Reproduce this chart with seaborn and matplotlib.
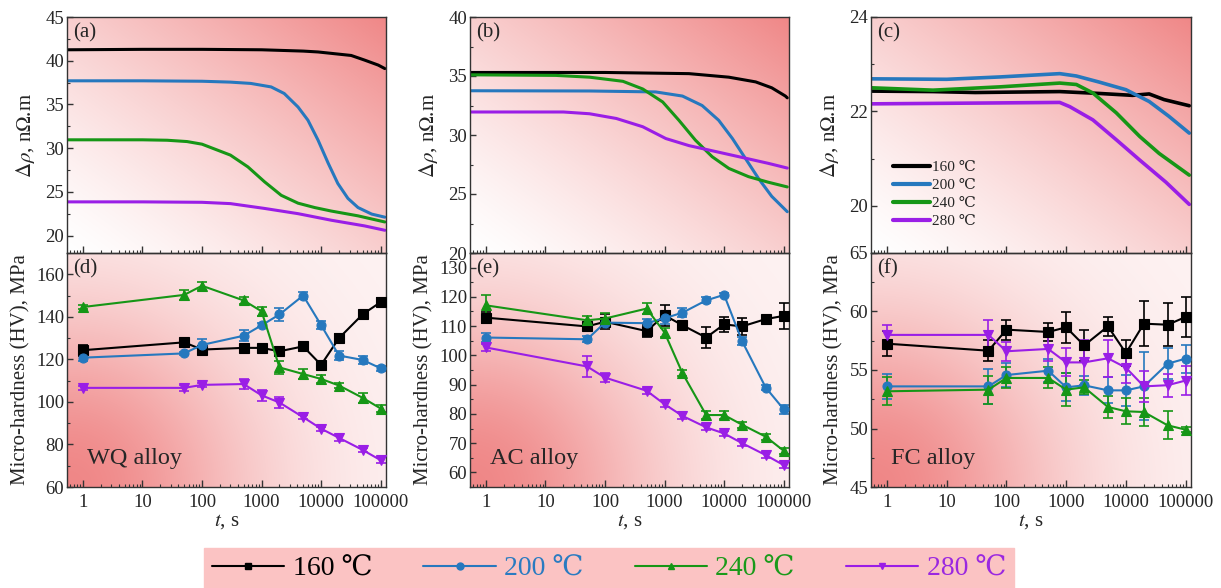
import numpy as np
import pandas as pd
import matplotlib
matplotlib.use("Agg")
import matplotlib.pyplot as plt
import seaborn as sns
from matplotlib.ticker import LogLocator, FixedLocator, MultipleLocator, FuncFormatter, NullFormatter
from matplotlib.lines import Line2D

# ---------------- data ----------------
temps = ["160 ℃", "200 ℃", "240 ℃", "280 ℃"]
colors = ["#000000", "#2678be", "#169616", "#9a1ee6"]
text_colors = ["#000000", "#2a7bc1", "#1a9a1a", "#9b28e0"]
markers = ["s", "o", "^", "v"]
alloys = ["WQ alloy", "AC alloy", "FC alloy"]
top_tags = ["(a)", "(b)", "(c)"]
bottom_tags = ["(d)", "(e)", "(f)"]

# resistivity change curves, delta rho (nOhm.m) vs ageing time (s)
# (a) WQ alloy
wq_t_160 = [0.55, 10, 100, 1000, 5000, 8900, 32000, 53700, 91000, 117500]
wq_r_160 = [41.25, 41.3, 41.3, 41.25, 41.1, 41.0, 40.6, 40.07, 39.5, 39.1]
wq_t_200 = [0.55, 10, 100, 300, 660, 1450, 2400, 4100, 6000, 8900, 13200, 19100, 28200,
            41700, 70800, 117500]
wq_r_200 = [37.7, 37.7, 37.65, 37.55, 37.4, 37.0, 36.25, 34.7, 33.2, 30.9, 28.25, 25.95, 24.25,
            23.2, 22.45, 22.1]
wq_t_240 = [0.55, 10, 26, 56, 100, 300, 590, 1120, 2140, 4100, 7800, 14800, 41700, 117500]
wq_r_240 = [30.95, 30.95, 30.9, 30.75, 30.45, 29.2, 27.85, 26.15, 24.6, 23.7, 23.2, 22.8, 22.25, 21.55]
wq_t_280 = [0.55, 10, 100, 300, 1120, 4100, 14800, 53700, 117500]
wq_r_280 = [23.85, 23.85, 23.8, 23.65, 23.1, 22.5, 21.75, 21.1, 20.6]

# (b) AC alloy
ac_t_160 = [0.55, 100, 2570, 12000, 33900, 63100, 107000, 115000]
ac_r_160 = [35.3, 35.3, 35.2, 34.9, 34.5, 34.0, 33.3, 33.15]
ac_t_200 = [0.55, 55, 710, 2000, 4270, 8100, 13800, 22900, 38000, 63100, 115000]
ac_r_200 = [33.75, 33.73, 33.65, 33.3, 32.5, 31.25, 29.7, 28.0, 26.3, 24.8, 23.5]
ac_t_240 = [0.55, 15, 55, 200, 430, 930, 1740, 3300, 6300, 12000, 25700, 55000, 115000]
ac_r_240 = [35.1, 35.05, 34.9, 34.55, 33.9, 32.8, 31.25, 29.56, 28.16, 27.17, 26.47, 26.0, 25.6]
ac_t_280 = [0.55, 20, 55, 155, 430, 1050, 2570, 7200, 20000, 55000, 115000]
ac_r_280 = [31.95, 31.95, 31.8, 31.4, 30.7, 29.7, 29.1, 28.6, 28.1, 27.6, 27.2]

# (c) FC alloy
fc_t_160 = [0.55, 5.9, 30, 780, 3600, 12900, 24500, 43600, 115000]
fc_r_160 = [22.43, 22.42, 22.4, 22.42, 22.38, 22.34, 22.37, 22.25, 22.12]
fc_t_200 = [0.55, 10, 78, 780, 1480, 3600, 10000, 24500, 52000, 115000]
fc_r_200 = [22.69, 22.68, 22.73, 22.8, 22.75, 22.62, 22.46, 22.21, 21.9, 21.54]
fc_t_240 = [0.55, 5.9, 78, 780, 1480, 2800, 6900, 17000, 36000, 115000]
fc_r_240 = [22.5, 22.45, 22.52, 22.6, 22.57, 22.39, 21.97, 21.47, 21.11, 20.65]
fc_t_280 = [0.55, 78, 780, 1150, 2800, 6900, 17000, 46800, 115000]
fc_r_280 = [22.16, 22.18, 22.19, 22.1, 21.82, 21.4, 20.97, 20.5, 20.03]

# micro-hardness (MPa) measured at these ageing times
hv_t = [1, 50, 100, 500, 1000, 2000, 5000, 10000, 20000, 50000, 100000]

wq_hv_160 = [124.3, 128.0, 124.6, 125.4, 125.4, 123.8, 126.1, 117.4, 130.0, 141.2, 146.9]
wq_hv_200 = [120.8, 122.8, 126.8, 131.1, 136.0, 141.1, 150.0, 136.1, 121.8, 119.7, 115.8]
wq_hv_240 = [144.6, 150.3, 154.6, 147.7, 142.6, 116.2, 113.1, 110.8, 107.7, 101.9, 96.9]
wq_hv_280 = [106.6, 106.6, 108.0, 108.4, 103.1, 99.7, 92.8, 87.4, 83.1, 77.4, 72.6]
wq_err_160 = [2.5, 1.5, 1.5, 1.2, 0.8, 1.5, 1.2, 2.0, 2.0, 1.2, 1.8]
wq_err_200 = [1.5, 0.8, 3.0, 2.5, 1.0, 3.0, 1.8, 1.8, 2.0, 2.0, 1.2]
wq_err_240 = [1.0, 2.5, 2.0, 1.5, 2.0, 3.0, 2.5, 2.0, 1.0, 2.5, 1.5]
wq_err_280 = [1.0, 1.5, 1.0, 2.5, 2.5, 2.5, 1.0, 1.0, 1.5, 1.0, 1.5]

ac_hv_160 = [112.9, 109.9, 111.5, 108.3, 113.7, 110.3, 106.1, 110.6, 109.9, 112.4, 113.5]
ac_hv_200 = [106.1, 105.5, 111.2, 111.0, 112.7, 114.6, 118.8, 120.7, 104.9, 89.0, 81.6]
ac_hv_240 = [117.1, 112.0, 112.6, 116.0, 107.8, 93.9, 79.6, 79.6, 76.3, 72.2, 67.4]
ac_hv_280 = [102.7, 96.2, 92.4, 87.9, 83.3, 79.3, 75.4, 73.3, 70.0, 65.9, 62.5]
ac_err_160 = [2.0, 1.0, 2.5, 2.0, 3.5, 1.0, 3.5, 2.5, 2.8, 0.5, 4.5]
ac_err_200 = [1.5, 1.0, 1.0, 1.5, 2.0, 1.5, 1.0, 0.5, 1.5, 1.0, 1.5]
ac_err_240 = [3.5, 1.5, 2.0, 2.0, 1.5, 1.0, 1.5, 1.5, 1.0, 1.0, 1.0]
ac_err_280 = [1.2, 3.5, 1.5, 1.0, 1.0, 1.0, 1.0, 1.0, 1.0, 1.0, 1.0]

fc_hv_160 = [57.25, 56.65, 58.45, 58.25, 58.65, 57.1, 58.73, 56.45, 58.96, 58.87, 59.53]
fc_hv_200 = [53.6, 53.6, 54.57, 54.94, 53.52, 53.69, 53.26, 53.26, 53.6, 55.54, 55.97]
fc_hv_240 = [53.18, 53.32, 54.32, 54.32, 53.32, 53.52, 51.84, 51.47, 51.41, 50.27, 49.9]
fc_hv_280 = [58.0, 58.0, 56.6, 56.8, 55.65, 55.65, 56.0, 55.2, 53.6, 53.7, 54.1]
fc_err_160 = [1.05, 0.9, 0.85, 0.8, 1.3, 1.35, 0.8, 1.1, 1.95, 1.85, 1.7]
fc_err_200 = [1.1, 1.5, 1.0, 1.0, 1.2, 0.8, 1.1, 1.3, 2.9, 1.3, 1.2]
fc_err_240 = [1.2, 1.2, 0.9, 0.9, 1.4, 0.6, 0.9, 1.1, 1.2, 1.2, 0.2]
fc_err_280 = [0.85, 1.3, 0.8, 1.0, 1.2, 1.9, 1.6, 1.3, 1.3, 1.0, 1.2]

top_series = [
    [(wq_t_160, wq_r_160), (wq_t_200, wq_r_200), (wq_t_240, wq_r_240), (wq_t_280, wq_r_280)],
    [(ac_t_160, ac_r_160), (ac_t_200, ac_r_200), (ac_t_240, ac_r_240), (ac_t_280, ac_r_280)],
    [(fc_t_160, fc_r_160), (fc_t_200, fc_r_200), (fc_t_240, fc_r_240), (fc_t_280, fc_r_280)],
]
bottom_series = [
    [(wq_hv_160, wq_err_160), (wq_hv_200, wq_err_200), (wq_hv_240, wq_err_240), (wq_hv_280, wq_err_280)],
    [(ac_hv_160, ac_err_160), (ac_hv_200, ac_err_200), (ac_hv_240, ac_err_240), (ac_hv_280, ac_err_280)],
    [(fc_hv_160, fc_err_160), (fc_hv_200, fc_err_200), (fc_hv_240, fc_err_240), (fc_hv_280, fc_err_280)],
]

top_ylims = [(18, 45), (20, 40), (19, 24)]
top_major = [5, 5, 2]
top_minor = [2.5, 2.5, 1]
bottom_ylims = [(60, 170), (55, 135), (45, 65)]
bottom_major = [20, 10, 5]
bottom_minor = [10, 5, 2.5]
x_ticks = [1, 10, 100, 1000, 10000, 100000]

# ---------------- style ----------------
sns.set_theme(style="ticks")
plt.rcParams["font.family"] = ["Liberation Serif", "DejaVu Serif", "DejaVu Sans"]
plt.rcParams["mathtext.fontset"] = "stix"
plt.rcParams["xtick.direction"] = "in"
plt.rcParams["ytick.direction"] = "in"
plt.rcParams["axes.edgecolor"] = "#333333"
plt.rcParams["axes.linewidth"] = 1.0

W, H = 1221, 588
fig = plt.figure(figsize=(W / 100, H / 100), dpi=100)

lefts = [67, 470, 871]
widths = [319, 319, 320]
top_box = (17, 253)
bot_box = (253, 487)

pink = np.array([0.94, 0.53, 0.53])
white = np.array([1.0, 1.0, 1.0])
gu, gv = np.meshgrid(np.linspace(0, 1, 200), np.linspace(0, 1, 200))


def shade(weight):
    w = np.clip(weight, 0, 1)[..., None]
    return white * (1 - w) + pink * w


top_bg = shade(((gu + gv) / 2) ** 1.3)
bot_bg = shade(0.1 + 0.9 * np.exp(-(gu ** 2 / 0.35 + gv ** 2 / 0.6)))


def frac_rect(left, width, box):
    y0, y1 = box
    return [left / W, (H - y1) / H, width / W, (y1 - y0) / H]


def add_background(rect, img):
    bg = fig.add_axes(rect, zorder=0)
    bg.imshow(img, origin="lower", extent=(0, 1, 0, 1), aspect="auto", interpolation="bilinear")
    bg.set_axis_off()


def style_xaxis(ax, show_labels):
    ax.set_xscale("log")
    ax.set_xlim(0.54, 1.23e5)
    ax.xaxis.set_major_locator(FixedLocator(x_ticks))
    ax.xaxis.set_minor_locator(LogLocator(base=10, subs=np.arange(2, 10), numticks=20))
    ax.xaxis.set_minor_formatter(NullFormatter())
    if show_labels:
        ax.xaxis.set_major_formatter(FuncFormatter(lambda v, p: f"{int(round(v))}"))
    else:
        ax.xaxis.set_major_formatter(NullFormatter())
    ax.tick_params(axis="x", which="major", length=5, width=1, labelsize=13.5, pad=5, color="#333333")
    ax.tick_params(axis="x", which="minor", length=2.5, width=0.8, color="#333333")
    ax.tick_params(axis="y", which="major", length=4, width=1, labelsize=13.5, pad=2, color="#333333")
    ax.tick_params(axis="y", which="minor", length=2.5, width=0.8, color="#333333")
    for s in ax.spines.values():
        s.set_visible(True)


for col in range(3):
    # top: resistivity curves
    rect_t = frac_rect(lefts[col], widths[col], top_box)
    add_background(rect_t, top_bg)
    ax = fig.add_axes(rect_t, zorder=1)
    ax.set_facecolor("none")
    for i, (tt, rr) in enumerate(top_series[col]):
        df = pd.DataFrame({"t": tt, "r": rr})
        sns.lineplot(data=df, x="t", y="r", ax=ax, color=colors[i], linewidth=2.6 if col == 2 else 2.2,
                     estimator=None, sort=False)
    style_xaxis(ax, False)
    ax.set_ylim(*top_ylims[col])
    ax.yaxis.set_major_locator(MultipleLocator(top_major[col]))
    ax.yaxis.set_minor_locator(MultipleLocator(top_minor[col]))
    ax.set_xlabel("")
    ax.set_ylabel(r"$\Delta\rho$, n$\Omega$.m", fontsize=15, labelpad=6)
    ax.text(0.018, 0.975, top_tags[col], transform=ax.transAxes, fontsize=15, va="top", ha="left")
    if col == 2:
        hs = [Line2D([], [], color=c, lw=3) for c in colors]
        ax.legend(hs, temps, loc="lower left", bbox_to_anchor=(0.035, 0.06), frameon=False,
                  fontsize=11, handlelength=2.4, handletextpad=0.15, labelspacing=0.28,
                  borderpad=0.2)

    # bottom: micro-hardness with error bars
    rect_b = frac_rect(lefts[col], widths[col], bot_box)
    add_background(rect_b, bot_bg)
    ax = fig.add_axes(rect_b, zorder=1)
    ax.set_facecolor("none")
    for i, (hv, err) in enumerate(bottom_series[col]):
        df = pd.DataFrame({"t": hv_t, "hv": hv})
        ax.errorbar(hv_t, hv, yerr=err, fmt="none", ecolor=colors[i], elinewidth=1.2,
                    capsize=3.5, capthick=1.2, zorder=2)
        sns.lineplot(data=df, x="t", y="hv", ax=ax, color=colors[i], linewidth=1.5,
                     marker=markers[i], markersize=7 if markers[i] != "o" else 6.5,
                     markeredgecolor=colors[i], markeredgewidth=0.8,
                     estimator=None, sort=False, zorder=3)
    style_xaxis(ax, True)
    ax.set_ylim(*bottom_ylims[col])
    ax.yaxis.set_major_locator(MultipleLocator(bottom_major[col]))
    ax.yaxis.set_minor_locator(MultipleLocator(bottom_minor[col]))
    ax.set_xlabel(r"$t$, s", fontsize=15, labelpad=1)
    ax.set_ylabel("Micro-hardness (HV), MPa", fontsize=15, labelpad=4)
    ax.text(0.018, 0.975, bottom_tags[col], transform=ax.transAxes, fontsize=15, va="top", ha="left")
    ax.text(0.063, 0.1, alloys[col], transform=ax.transAxes, fontsize=17.5, va="baseline", ha="left")

# shared legend under the panels
legend_handles = [Line2D([], [], color=c, lw=1.5, marker=m, markersize=5, markeredgecolor=c)
                  for c, m in zip(colors, markers)]
leg = fig.legend(legend_handles, temps, loc="lower center", bbox_to_anchor=(0.4988, -0.004),
                 ncol=4, fontsize=20, frameon=True, fancybox=False, facecolor="#fbc3c3",
                 edgecolor="#fbc3c3", framealpha=1, handlelength=2.6, handletextpad=0.3,
                 columnspacing=1.85, borderpad=0.3, borderaxespad=0)
for txt, c in zip(leg.get_texts(), text_colors):
    txt.set_color(c)

fig.savefig("out.png", dpi=100)
